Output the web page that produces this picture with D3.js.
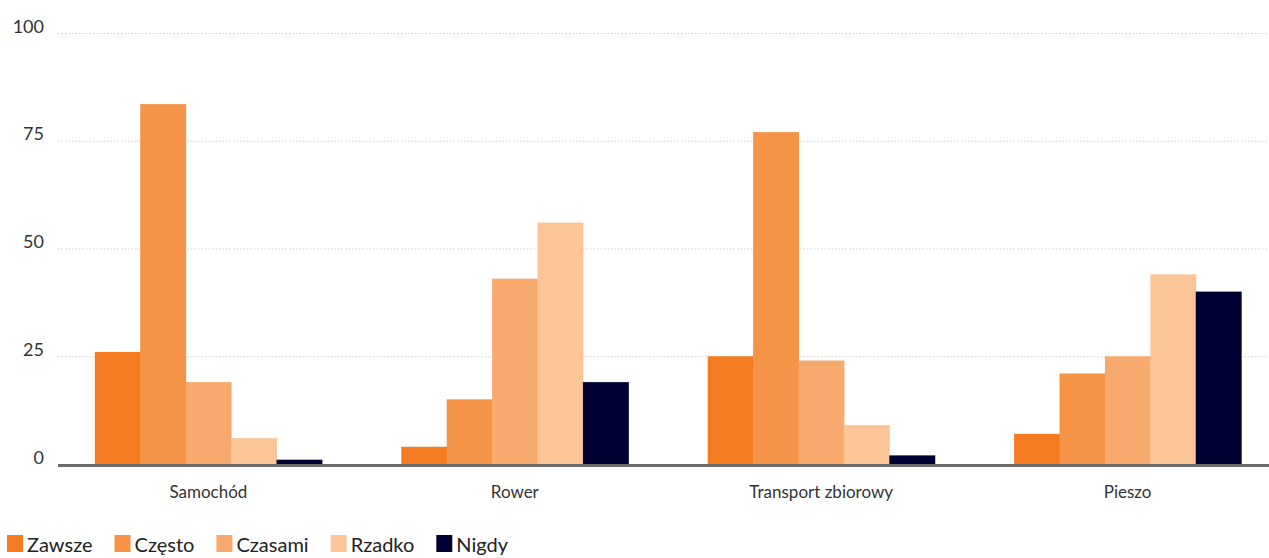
<!DOCTYPE html>
<html>
<head>
<meta charset="utf-8">
<script src="https://cdn.jsdelivr.net/npm/d3@7"></script>
<style>
  html, body { margin: 0; padding: 0; background: #fff; }
  svg { display: block; font-family: "Lato", "Open Sans", sans-serif; }
</style>
</head>
<body>
<svg id="chart" width="1269" height="558"></svg>
<script>
// Travel modes on the x axis
const categories = ["Samochód", "Rower", "Transport zbiorowy", "Pieszo"];
// Answer frequencies (one series each), values in %
const seriesNames = ["Zawsze", "Często", "Czasami", "Rzadko", "Nigdy"];
const zawsze  = [26, 4, 25, 7];
const czesto  = [83.5, 15, 77, 21];
const czasami = [19, 43, 24, 25];
const rzadko  = [6, 56, 9, 44];
const nigdy   = [1, 19, 2, 40];
const yTicks = [0, 25, 50, 75, 100];
const colors = ["#f47b20", "#f59346", "#f8aa6e", "#fcc598", "#000033"];

const seriesValues = [zawsze, czesto, czasami, rzadko, nigdy];

const svg = d3.select("#chart");
const plotLeft = 58, plotRight = 1269, plotTop = 33, plotBottom = 464;

const x0 = d3.scaleBand().domain(categories)
  .range([55, 1281]).paddingInner(0.259).paddingOuter(0.13);
const x1 = d3.scaleBand().domain(seriesNames)
  .range([0, x0.bandwidth()]).padding(0);
const y = d3.scaleLinear().domain([0, 100]).range([plotBottom, plotTop]);

// dotted gridlines
svg.append("g")
  .selectAll("line")
  .data(yTicks.filter(t => t > 0))
  .join("line")
  .attr("x1", plotLeft).attr("x2", plotRight)
  .attr("y1", d => y(d) + 0.5).attr("y2", d => y(d) + 0.5)
  .attr("stroke", "#cfcfcf")
  .attr("stroke-width", 1)
  .attr("stroke-dasharray", "1.5,2");

// y tick labels
const yAxis = d3.axisLeft(y).tickValues(yTicks).tickSize(0).tickPadding(0);
const yg = svg.append("g").attr("transform", `translate(44,0)`).call(yAxis);
yg.select(".domain").remove();
yg.selectAll("text")
  .attr("dy", "-0.05em")
  .attr("font-size", 18)
  .attr("fill", "#333")
  .attr("font-family", "Lato, sans-serif");

// bars
const groups = svg.append("g")
  .selectAll("g")
  .data(categories)
  .join("g")
  .attr("transform", d => `translate(${x0(d)},0)`);

groups.selectAll("rect")
  .data((c, i) => seriesNames.map((s, j) => ({ s, v: seriesValues[j][i], c: colors[j] })))
  .join("rect")
  .attr("x", d => x1(d.s))
  .attr("width", x1.bandwidth() + 0.5)
  .attr("y", d => y(d.v))
  .attr("height", d => y(0) - y(d.v))
  .attr("fill", d => d.c);

// baseline
svg.append("line")
  .attr("x1", plotLeft).attr("x2", plotRight)
  .attr("y1", y(0) + 1.5).attr("y2", y(0) + 1.5)
  .attr("stroke", "#6b6b6b").attr("stroke-width", 3);

// category labels
const xAxis = d3.axisBottom(x0).tickSize(0).tickPadding(0);
const xg = svg.append("g").attr("transform", `translate(0,${plotBottom})`).call(xAxis);
xg.select(".domain").remove();
xg.selectAll("text")
  .attr("y", 34).attr("dy", 0)
  .attr("font-size", 17)
  .attr("fill", "#333")
  .attr("font-family", "Lato, sans-serif");

// legend
const legend = svg.append("g").attr("transform", "translate(7,0)");
let lx = 0;
seriesNames.forEach((name, i) => {
  const g = legend.append("g").attr("transform", `translate(${lx},0)`);
  g.append("rect").attr("x", 0).attr("y", 535).attr("width", 16).attr("height", 17).attr("fill", colors[i]);
  const t = g.append("text").attr("x", 20).attr("y", 552)
    .attr("font-size", 20).attr("fill", "#222").text(name);
  lx += 20 + t.node().getComputedTextLength() + 22;
});
</script>
</body>
</html>
